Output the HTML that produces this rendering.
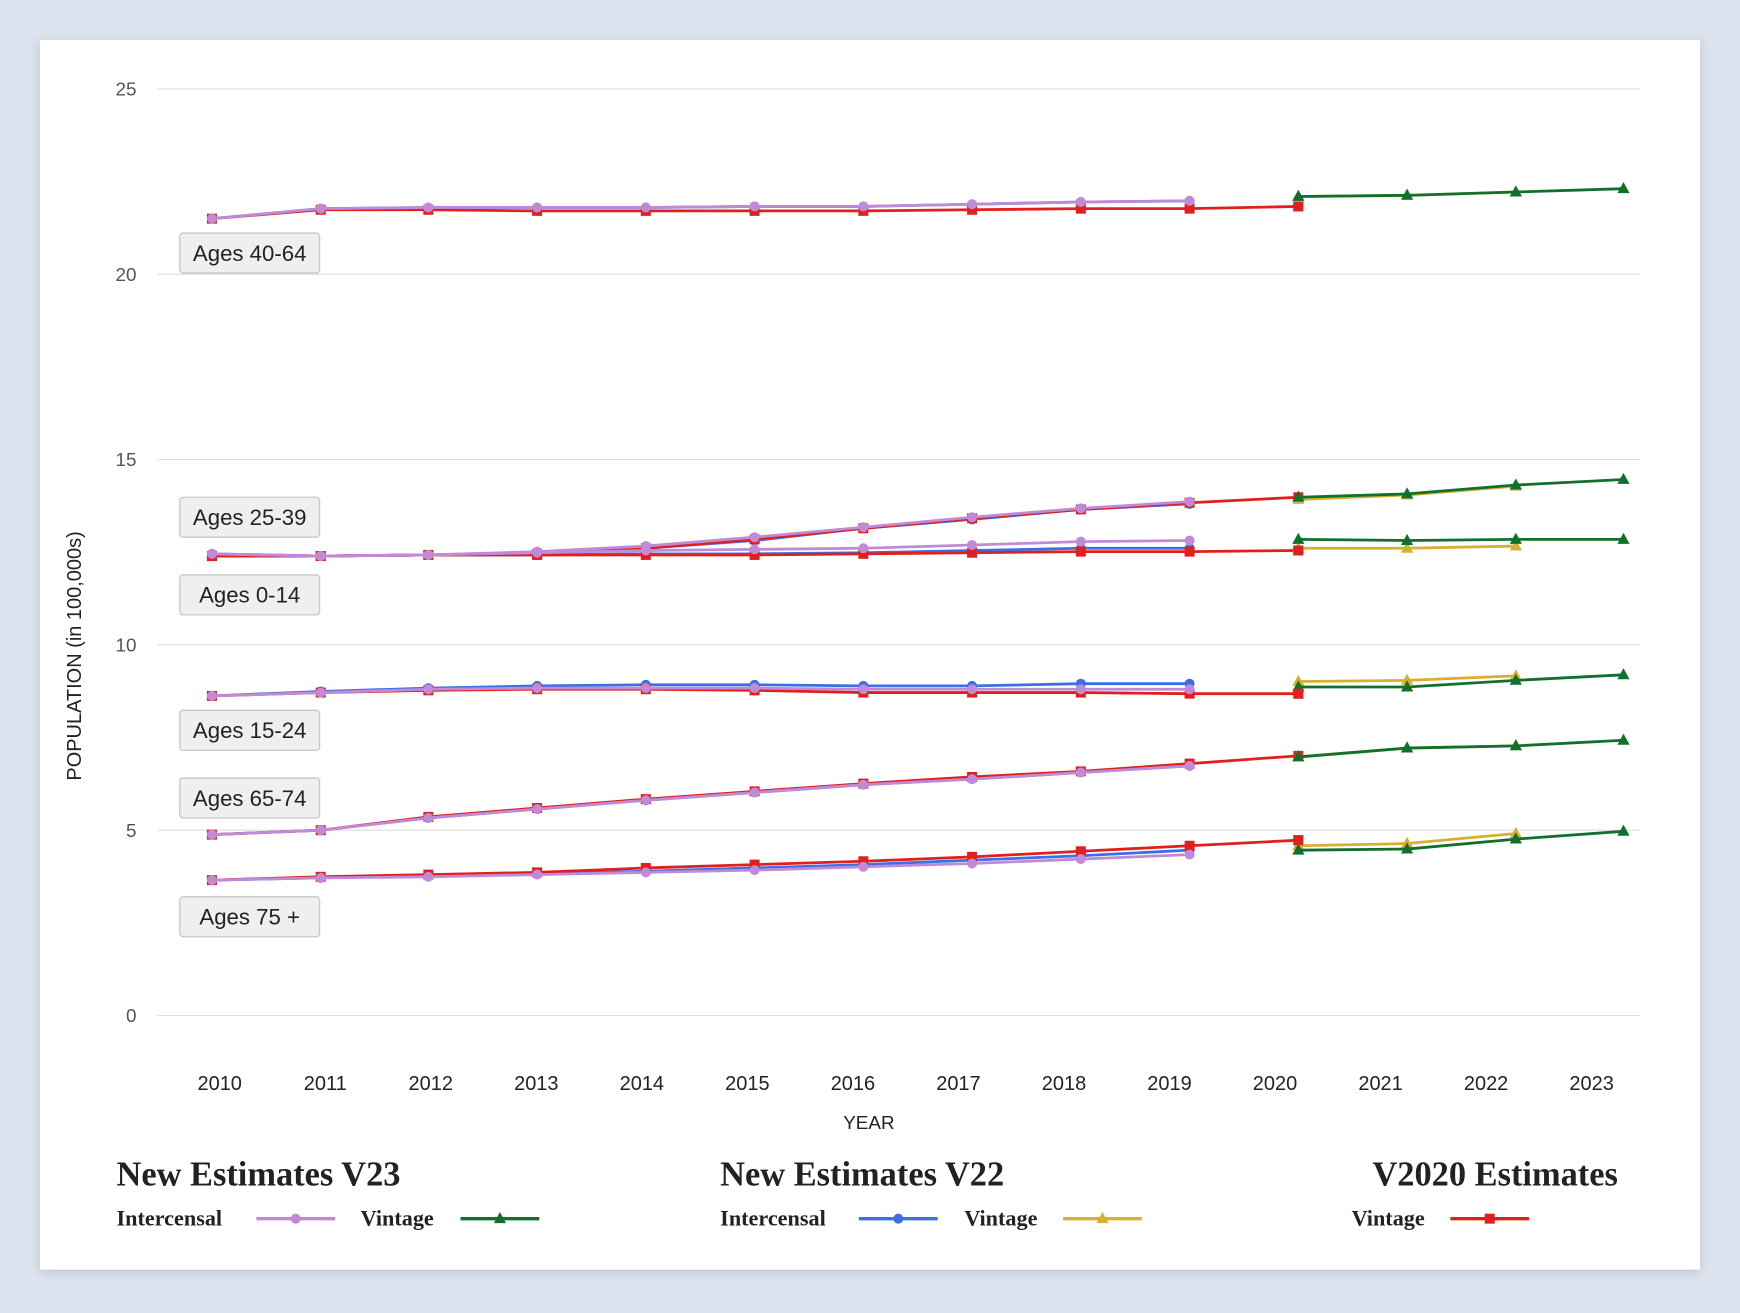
<!DOCTYPE html>
<html><head><meta charset="utf-8">
<style>
html,body{margin:0;padding:0;width:1740px;height:1313px;overflow:hidden;background:#dde3ee;}
svg{display:block;}
</style></head>
<body>
<svg id="c" width="1740" height="1313" viewBox="0 0 1568 1183" preserveAspectRatio="none" xmlns="http://www.w3.org/2000/svg">
<defs>
<filter id="sh" x="-5%" y="-5%" width="110%" height="110%"><feDropShadow dx="0" dy="2" stdDeviation="5" flood-color="#8a95a8" flood-opacity="0.45"/></filter>
</defs>
<rect x="0" y="0" width="1568" height="1183" fill="#dde3ee"/>
<rect x="36" y="36" width="1496" height="1108" fill="#fff" filter="url(#sh)"/>
<g id="grid" font-family="Liberation Sans, sans-serif" font-size="17" fill="#555" text-anchor="end"></g>
<g id="plot"></g>
<g font-family="Liberation Sans, sans-serif" fill="#222">
<text x="0" y="0" font-size="18" text-anchor="middle" transform="translate(73,591) rotate(-90)">POPULATION (in 100,000s)</text>
<text x="783" y="1017" font-size="17" text-anchor="middle">YEAR</text>
</g>
<g id="labels" font-family="Liberation Sans, sans-serif" font-size="20" fill="#222"></g>
<g font-family="Liberation Serif, serif" font-weight="bold" fill="#222">
<text x="105" y="1068" font-size="31">New Estimates V23</text>
<text x="649" y="1068" font-size="31">New Estimates V22</text>
<text x="1458" y="1068" font-size="31" text-anchor="end">V2020 Estimates</text>
<text x="105" y="1104" font-size="20">Intercensal</text>
<text x="325" y="1104" font-size="20">Vintage</text>
<text x="649" y="1104" font-size="20">Intercensal</text>
<text x="869" y="1104" font-size="20">Vintage</text>
<text x="1218" y="1104" font-size="20">Vintage</text>
</g>
<g id="leg"></g>
</svg>
<script>
var NS="http://www.w3.org/2000/svg";
function el(p,t,a,txt){var e=document.createElementNS(NS,t);for(var k in a)e.setAttribute(k,a[k]);if(txt)e.textContent=txt;p.appendChild(e);return e;}
var grid=document.getElementById('grid');
[25,20,15,10,5,0].forEach(function(v){var y=915-v*33.4;el(grid,'line',{x1:142,x2:1478,y1:y,y2:y,stroke:'#ddd','stroke-width':1});el(grid,'text',{x:123,y:y+6},String(v));});
for(var i=0;i<14;i++){el(grid,'text',{x:198+i*95.1,y:982,'text-anchor':'middle','font-size':18,fill:'#222'},String(2010+i));}
var X=[191,289,386,484,582,680,778,876,974,1072,1170,1268,1366,1463];
var C={p:'#c08ad6',b:'#3b6fe6',r:'#e0201e',g:'#11702c',y:'#d8b030'};
function marker(g,type,x,y,col){
 if(type==='c')el(g,'circle',{cx:x,cy:y,r:4.5,fill:col});
 else if(type==='s')el(g,'rect',{x:x-4.5,y:y-4.5,width:9,height:9,fill:col});
 else el(g,'polygon',{points:(x)+','+(y-6)+' '+(x-5.5)+','+(y+4)+' '+(x+5.5)+','+(y+4),fill:col});
}
function series(ys,start,col,type){
 var g=document.getElementById('plot');var pts=ys.map(function(y,i){return X[start+i]+','+y}).join(' ');
 el(g,'polyline',{points:pts,fill:'none',stroke:col,'stroke-width':2.5});
 ys.forEach(function(y,i){marker(g,type,X[start+i],y,col)});
}
var D=[
 {p:[197,188,187,187,187,186,186,184,182,181],b:[197,188,187,187,187,186,186,184,182,181],r:[197,189,189,190,190,190,190,189,188,188,186],g:[177,176,173,170],y:[177,176,173]},
 {p:[499,501,500,497,492,484,475,466,458,452],b:[499,501,500,498,494,487,476,468,459,454],r:[501,501,500,499,494,486,476,467,459,453,448],g:[448,445,437,432],y:[450,446,438]},
 {p:[499,501,500,498,496,495,494,491,488,487],b:[501,501,500,500,499,499,498,496,494,494],r:[501,501,500,500,500,500,499,498,497,497,496],g:[486,487,486,486],y:[494,494,492]},
 {p:[627,624,621,620,620,620,621,621,621,621],b:[627,623,620,618,617,617,618,618,616,616],r:[627,624,622,621,621,622,624,624,624,625,625],g:[619,619,613,608],y:[614,613,609]},
 {p:[752,748,737,729,721,714,707,702,696,690],b:[752,748,737,729,721,714,707,702,696,690],r:[752,748,736,728,720,713,706,700,695,688,681],g:[682,674,672,667],y:[682,674,672]},
 {p:[793,791,790,788,786,784,781,778,774,770],b:[793,791,789,787,785,782,779,775,771,766],r:[793,790,788,786,782,779,776,772,767,762,757],g:[766,765,756,749],y:[762,760,751]}
];
D.forEach(function(d){series(d.b,0,C.b,'c');});
D.forEach(function(d){series(d.r,0,C.r,'s');});
D.forEach(function(d){series(d.p,0,C.p,'c');});
D.forEach(function(d){series(d.y,10,C.y,'t');});
D.forEach(function(d){series(d.g,10,C.g,'t');});
[0,2,3,5].forEach(function(i){var r=D[i].r;marker(document.getElementById('plot'),'s',X[10],r[10],C.r);});
var L=document.getElementById('labels');
[['Ages 40-64',228],['Ages 25-39',466],['Ages 0-14',536],['Ages 15-24',658],['Ages 65-74',719],['Ages 75 +',826]].forEach(function(a){
 el(L,'rect',{x:162,y:a[1]-18,width:126,height:36,rx:3,fill:'#efefef',stroke:'#c8c8c8','stroke-width':1.2});
 el(L,'text',{x:225,y:a[1]+7,'text-anchor':'middle'},a[0]);
});
var G=document.getElementById('leg');
function leg(x1,x2,col,type){el(G,'line',{x1:x1,x2:x2,y1:1098,y2:1098,stroke:col,'stroke-width':3});marker(G,type,(x1+x2)/2,1098,col);}
leg(231,302,C.p,'c');leg(415,486,C.g,'t');leg(774,845,C.b,'c');leg(958,1029,C.y,'t');leg(1307,1378,C.r,'s');
</script>
</body></html>
